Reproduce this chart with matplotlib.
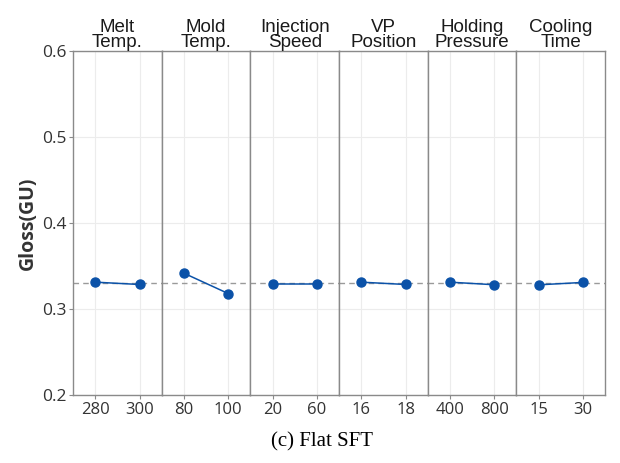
import matplotlib.pyplot as plt

# main-effects data: two levels per factor, mean gloss at each level
factors = ["Melt\nTemp.", "Mold\nTemp.", "Injection\nSpeed", "VP\nPosition",
           "Holding\nPressure", "Cooling\nTime"]
levels = [["280", "300"], ["80", "100"], ["20", "60"], ["16", "18"],
          ["400", "800"], ["15", "30"]]
gloss = [[0.3313, 0.3286], [0.3417, 0.3180], [0.3297, 0.3297],
         [0.3313, 0.3286], [0.3313, 0.3283], [0.3282, 0.3310]]
grand_mean = 0.330

blue = "#0B52A8"
edge = "#8a8a8a"
tick_font = ["Open Sans", "DejaVu Sans"]
strip_font = ["Liberation Sans Narrow", "Liberation Sans", "DejaVu Sans"]

fig, axes = plt.subplots(1, len(factors), figsize=(6.2, 4.63), dpi=100, sharey=True)
fig.subplots_adjust(left=0.118, right=0.976, top=0.889, bottom=0.147, wspace=0)

for i, ax in enumerate(axes):
    x = [1, 2]
    ax.axhline(grand_mean, color="#9a9a9a", ls=(0, (4, 3)), lw=1.0, zorder=1)
    ax.plot(x, gloss[i], color=blue, lw=1.1, marker="o", ms=6.5, zorder=3)
    ax.set_xlim(0.5, 2.5)
    ax.set_ylim(0.2, 0.6)
    ax.set_xticks(x)
    ax.set_xticklabels(levels[i], fontsize=12, family=tick_font, color="#333333")
    ax.set_yticks([0.2, 0.3, 0.4, 0.5, 0.6])
    ax.grid(True, color="#ececec", lw=0.8, zorder=0)
    ax.set_axisbelow(True)
    for s in ax.spines.values():
        s.set_color(edge)
        s.set_linewidth(1.0)
    ax.tick_params(axis="x", length=3, color=edge, pad=2)
    if i == 0:
        ax.tick_params(axis="y", length=3, color=edge, labelsize=12.5,
                       labelcolor="#333333", pad=2)
        for lab in ax.get_yticklabels():
            lab.set_family(tick_font)
    else:
        ax.tick_params(axis="y", length=0)
    ax.set_title(factors[i], fontsize=13.5, family=strip_font, linespacing=0.85,
                 pad=3, color="#1a1a1a")

axes[0].set_ylabel("Gloss(GU)", fontsize=14, fontweight="bold", family=tick_font,
                   color="#333333", labelpad=3)
fig.text(0.52, 0.045, "(c) Flat SFT", ha="center", va="center", fontsize=15,
         family=["Liberation Serif", "DejaVu Serif"])

fig.savefig("out.png", dpi=100)
